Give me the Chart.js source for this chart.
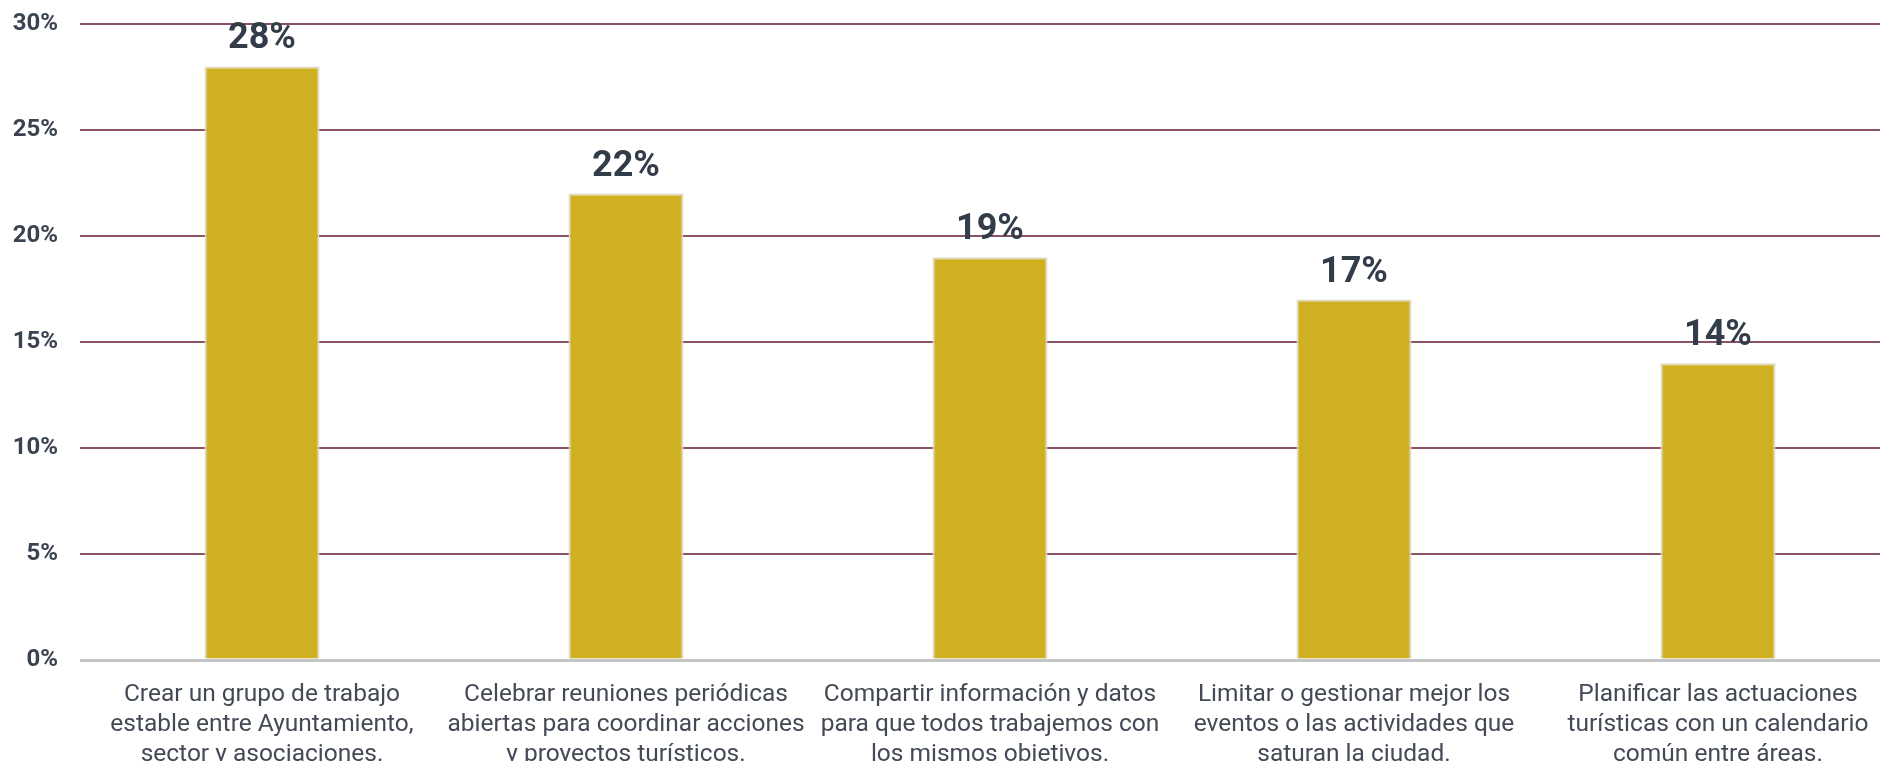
<!DOCTYPE html>
<html>
<head>
<meta charset="utf-8">
<script src="https://cdn.jsdelivr.net/npm/chart.js@4"></script>
<style>
  html, body { margin: 0; padding: 0; background: #fff; overflow: hidden; }
  #wrap { width: 1900px; height: 800px; position: relative; }
</style>
</head>
<body>
<div id="wrap"><canvas id="chart"></canvas></div>
<script>
const categories = [
  ['Crear un grupo de trabajo', 'estable entre Ayuntamiento,', 'sector y asociaciones.'],
  ['Celebrar reuniones periódicas', 'abiertas para coordinar acciones', 'y proyectos turísticos.'],
  ['Compartir información y datos', 'para que todos trabajemos con', 'los mismos objetivos.'],
  ['Limitar o gestionar mejor los', 'eventos o las actividades que', 'saturan la ciudad.'],
  ['Planificar las actuaciones', 'turísticas con un calendario', 'común entre áreas.']
];
const values = [28, 22, 19, 17, 14];
const yTicks = [0, 5, 10, 15, 20, 25, 30];

// draws the percentage above each bar
const valueLabels = {
  id: 'valueLabels',
  afterDatasetsDraw(chart) {
    const ctx = chart.ctx;
    const meta = chart.getDatasetMeta(0);
    ctx.save();
    ctx.font = 'bold 36px Roboto';
    ctx.fillStyle = '#333d4a';
    ctx.textAlign = 'center';
    ctx.textBaseline = 'bottom';
    meta.data.forEach((bar, i) => {
      ctx.fillText(values[i] + '%', bar.x, bar.y - 9);
    });
    ctx.restore();
  }
};

new Chart(document.getElementById('chart'), {
  type: 'bar',
  data: {
    labels: categories,
    datasets: [{
      data: values,
      backgroundColor: '#cfb020',
      borderColor: '#ddd8c0',
      borderWidth: 2,
      barPercentage: 0.316,
      categoryPercentage: 1
    }]
  },
  options: {
    responsive: true,
    maintainAspectRatio: false,
    animation: false,
    layout: { padding: { top: 24, right: 0, left: 0, bottom: 0 } },
    plugins: {
      legend: { display: false },
      tooltip: { enabled: false }
    },
    scales: {
      x: {
        grid: { display: false },
        border: { display: false },
        ticks: {
          color: '#444a55',
          font: { family: 'Roboto', size: 24.5, lineHeight: 1.22 },
          padding: 12,
          maxRotation: 0,
          autoSkip: false
        },
        afterFit(scale) { scale.height = 140; }
      },
      y: {
        min: 0,
        max: 30,
        afterBuildTicks(scale) { scale.ticks = yTicks.map(v => ({ value: v })); },
        grid: {
          color: ctx => ctx.tick && ctx.tick.value === 0 ? '#c4c4c4' : '#8a5266',
          lineWidth: ctx => ctx.tick && ctx.tick.value === 0 ? 3 : 2,
          drawTicks: false
        },
        border: { display: false },
        ticks: {
          color: '#3b4252',
          font: { family: 'Roboto', size: 24, weight: 'bold' },
          padding: 22,
          callback: v => v + '%'
        },
        afterFit(scale) {
          scale.width = 80;
          scale.paddingTop = 0;
          scale.paddingBottom = 0;
        }
      }
    }
  },
  plugins: [valueLabels]
});
</script>
</body>
</html>
